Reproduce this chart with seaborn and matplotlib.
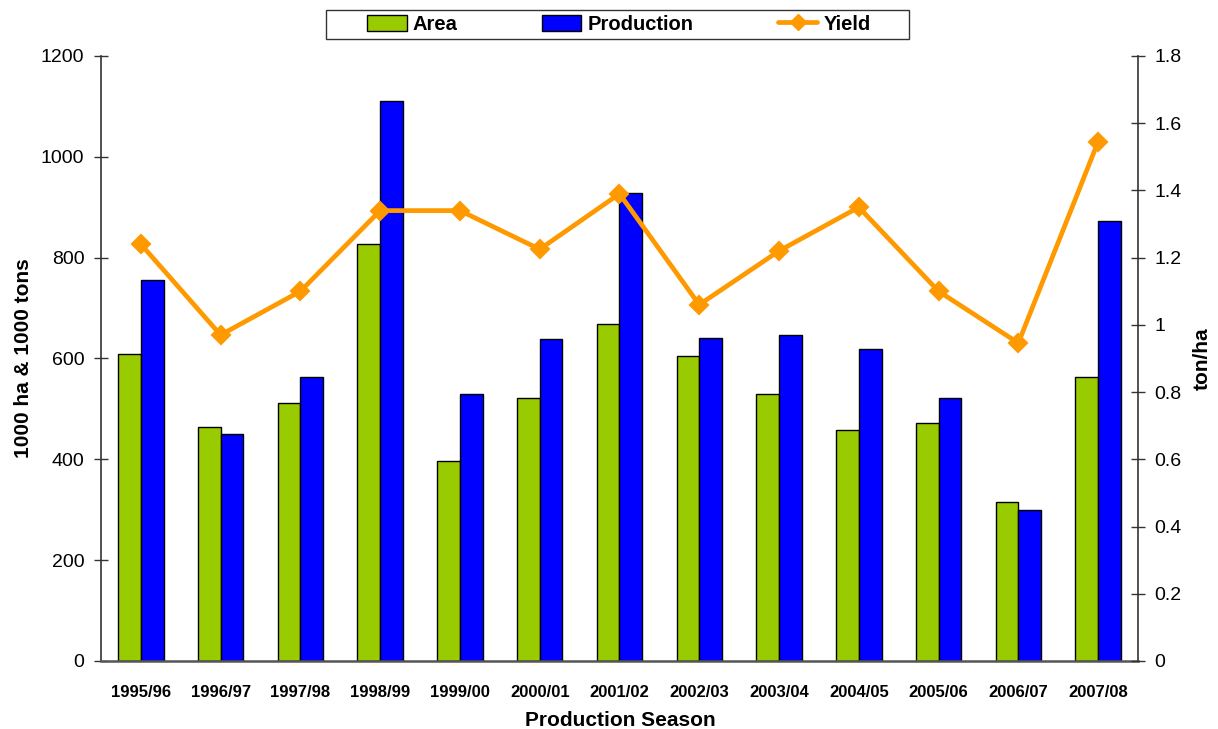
import matplotlib
matplotlib.use("Agg")
import matplotlib.pyplot as plt
from matplotlib.patches import Patch, Rectangle
from matplotlib.lines import Line2D
import numpy as np
import pandas as pd
import seaborn as sns

seasons = ["1995/96", "1996/97", "1997/98", "1998/99", "1999/00", "2000/01", "2001/02",
           "2002/03", "2003/04", "2004/05", "2005/06", "2006/07", "2007/08"]
area = [608, 464, 511, 828, 396, 522, 668, 605, 529, 459, 472, 316, 564]
production = [756, 450, 563, 1110, 530, 638, 929, 641, 647, 619, 521, 299, 872]
yield_t_ha = [1.24, 0.97, 1.10, 1.34, 1.34, 1.225, 1.39, 1.06, 1.22, 1.35, 1.10, 0.946, 1.545]

AREA_C = "#99CC00"
PROD_C = "#0000FF"
YIELD_C = "#FF9900"

sns.set_theme(style="white")
plt.rcParams["font.family"] = ["Liberation Sans", "DejaVu Sans"]
plt.rcParams.update({"text.color": "black", "axes.labelcolor": "black",
                     "xtick.color": "black", "ytick.color": "black"})

bars = pd.DataFrame({
    "season": seasons * 2,
    "series": ["Area"] * len(seasons) + ["Production"] * len(seasons),
    "value": area + production,
})
line = pd.DataFrame({"season": seasons, "yield": yield_t_ha})

fig = plt.figure(figsize=(12.18, 7.29), dpi=100)
ax = fig.add_axes([0.0829, 0.0933, 0.8514, 0.8299])

sns.barplot(data=bars, x="season", y="value", hue="series", order=seasons,
            palette={"Area": AREA_C, "Production": PROD_C}, width=0.57,
            edgecolor="black", linewidth=1.0, saturation=1, ax=ax, legend=False)

ax2 = ax.twinx()
sns.pointplot(data=line, x="season", y="yield", order=seasons, color=YIELD_C,
              markers="D", markersize=8, linewidth=3.4, ax=ax2)

ax.set_xlim(-0.5, len(seasons) - 0.5)
ax.set_ylim(0, 1200)
ax.set_yticks(np.arange(0, 1201, 200))
ax2.set_ylim(0, 1.8)
ax2.set_yticks(np.arange(0, 1.81, 0.2))
ax2.set_yticklabels(["0"] + [f"{v:g}" for v in np.round(np.arange(0.2, 1.81, 0.2), 1)])

for a in (ax, ax2):
    a.spines["top"].set_visible(False)
    for s in ("left", "right", "bottom"):
        a.spines[s].set_color("#333333")
        a.spines[s].set_linewidth(1.2)
    a.grid(False)
ax.spines["right"].set_visible(False)
ax2.spines["left"].set_visible(False)
ax.spines["bottom"].set_color("#555555")
ax.spines["bottom"].set_linewidth(1.8)
ax2.spines["bottom"].set_visible(False)

# category labels centred, tick marks between categories
ax.set_xticks(range(len(seasons)))
ax.set_xticklabels(seasons, fontsize=12, fontweight="bold")
ax.set_xticks(np.arange(-0.5, len(seasons)), minor=True)
ax.tick_params(axis="x", which="major", length=0, pad=17)
ax.tick_params(axis="x", which="minor", length=9, direction="inout", width=1, color="#333333")
ax.tick_params(axis="y", which="major", length=10, direction="inout", width=1,
               color="#333333", labelsize=14, pad=7)
ax2.tick_params(axis="y", which="major", length=10, direction="inout", width=1,
                color="#333333", labelsize=14, pad=7, right=True)

ax.set_xlabel("Production Season", fontsize=15, fontweight="bold")
ax.xaxis.set_label_coords(0.5005, -0.083)
ax.set_ylabel("1000 ha & 1000 tons", fontsize=15, fontweight="bold")
ax.yaxis.set_label_coords(-0.066, 0.5)
ax2.set_ylabel("ton/ha", fontsize=15, fontweight="bold")
ax2.yaxis.set_label_coords(1.053, 0.5)

handles = [
    Patch(facecolor=AREA_C, edgecolor="black", label="Area"),
    Patch(facecolor=PROD_C, edgecolor="black", label="Production"),
    Line2D([0], [0], color=YIELD_C, lw=3.4, marker="D", markersize=8, label="Yield"),
]
W, H = 1218.0, 729.0
fig.patches.append(Rectangle((326 / W, 1 - 39 / H), (909 - 326) / W, 29 / H,
                             transform=fig.transFigure, facecolor="white",
                             edgecolor="#333333", linewidth=1.0, zorder=0))
fig.legend(handles=handles, loc="center", bbox_to_anchor=(619 / W, 1 - 24.5 / H), ncol=3,
           frameon=False, prop={"weight": "bold", "size": 14.5}, columnspacing=4.2,
           handlelength=1.95, handleheight=0.85, handletextpad=0.3, borderpad=0.0)

fig.savefig("out.png", dpi=100)
